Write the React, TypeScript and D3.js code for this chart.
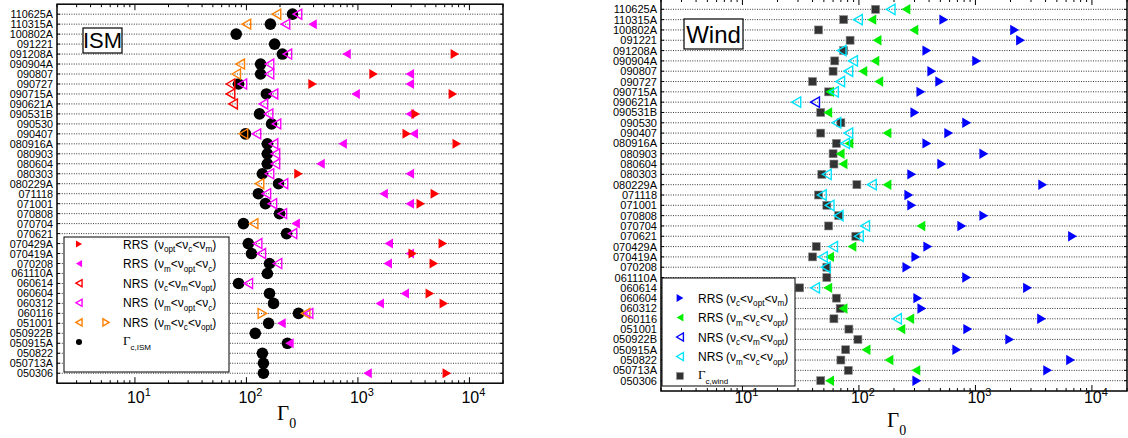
import React from 'react';
import * as d3 from 'd3';

// GRB names, top to bottom
const grbs = [
  '110625A', '110315A', '100802A', '091221', '091208A', '090904A', '090807', '090727',
  '090715A', '090621A', '090531B', '090530', '090407', '080916A', '080903', '080604',
  '080303', '080229A', '071118', '071001', '070808', '070704', '070621', '070429A',
  '070419A', '070208', '061110A', '060614', '060604', '060312', '060116', '051001',
  '050922B', '050915A', '050822', '050713A', '050306',
];

type V = number | null;
const n = null;

// ---- ISM panel (one value per GRB, null = no point) ----
const ismGammaC: V[] = [259, 164, 81, 179, 210, 134, 134, 85, 151, n, 131, 168, 98, 154, 154, 154, 139, 194, 128, 148,
  198, 94, 229, 104, 111, 161, 154, 85, 161, 175, 293, 158, 120, 233, 139, 142, 142];
const ismRrsRed: V[] = [n, n, n, n, 7400, n, 1380, 392, 7100, n, 3300, n, 2740, 7700, n, n, 293, n, 4890, 3660,
  n, n, n, 5770, 3100, 4790, n, n, 4410, 5890, n, n, n, n, n, n, 6270];
const ismRrsMagenta: V[] = [n, 392, n, n, 791, n, 2920, 2920, 953, n, 2920, n, 3170, 729, n, 462, 2920, n, 1700, 2920,
  n, 276, n, 1890, 2920, 1850, n, n, 2630, 1570, n, 206, n, 243, n, n, 1220];
const ismNrsMagenta: V[] = [287, 224, n, n, 233, 161, 161, 92, 175, 142, 158, 186, 123, 175, 182, 182, 161, 215, 151, 171,
  210, n, 259, 126, 136, 190, n, 104, n, n, 361, n, n, n, n, n, n];
const ismNrsRed: [string, number][] = [['090727', 72], ['090715A', 72], ['090621A', 76]];
const ismNrsOrangeL: [string, number][] = [
  ['110625A', 186], ['110315A', 100], ['090904A', 88], ['090807', 81],
  ['090407', 94], ['080229A', 131], ['070704', 116], ['060116', 339],
];
const ismNrsOrangeR: [string, number][] = [['060116', 139]];

// ---- Wind panel ----
const windGammaC: V[] = [139, 74, 45, 84, 74, 62, 60, 40, 55, n, 47, 70, 47, 64, 60, 61, 48, 96, 45, 53,
  67, 55, 94, 43, 40, 53, 53, 31, 64, 69, 61, 82, 98, 77, 70, 81, 47];
const windRrsBlue: V[] = [n, 535, 2170, 2440, 383, 1025, 422, 494, 340, n, 302, 841, 590, 383, 1180, 514, 284, 3780, 268, 284,
  1180, 764, 6820, 390, 308, 258, 841, 2800, 320, 347, 3700, 859, 1970, 692, 6560, 4170, 314];
const windRrsGreen: V[] = [253, 129, 296, 143, n, 137, 108, 148, 56, n, 54, n, 174, 82, 69, 73, n, 174, n, n,
  n, 340, n, 87, 56, n, n, 54, n, 73, 273, 229, n, 115, 181, 308, 56];
const windNrsCyan: V[] = [187, 98, n, n, 71, 89, 81, 69, 61, 29, n, 64, 81, 76, n, n, 53, 129, 48, 56,
  67, 113, 100, 60, 49, 52, n, 42, n, n, 212, n, n, n, n, n, n];
const windNrsBlue: [string, number][] = [['090621A', 42]];

const xDomain = [2, 20000];
const tickExps = ['1', '2', '3', '4'];

const RED = '#ff0000', MAG = '#ff00ff', ORA = '#ff8000', BLUE = '#0000ff', GREEN = '#00ee00', CYAN = '#00e5ff';

type Kind = 'circle' | 'square' | 'triL' | 'triR' | 'openL' | 'openR';
type Series = { pts: [number, number][]; kind: Kind; color: string };

const fromRows = (vals: V[]): [number, number][] =>
  vals.flatMap((v, i) => (v == null ? [] : [[i, v] as [number, number]]));
const fromPairs = (p: [string, number][]): [number, number][] => p.map(([g, v]) => [grbs.indexOf(g), v]);

function Marker({ kind, x, y, color, s }: { kind: Kind; x: number; y: number; color: string; s: number }) {
  if (kind === 'circle') return <circle cx={x} cy={y} r={s} fill={color} />;
  if (kind === 'square')
    return <rect x={x - s} y={y - s} width={2 * s} height={2 * s} fill="#333" stroke="#888" strokeWidth={0.6} />;
  const w = s * 0.85;
  const left = kind === 'triL' || kind === 'openL';
  const d = left
    ? `M${x - w},${y}L${x + w},${y - s}L${x + w},${y + s}Z`
    : `M${x + w},${y}L${x - w},${y - s}L${x - w},${y + s}Z`;
  const open = kind === 'openL' || kind === 'openR';
  return open
    ? <path d={d} fill="none" stroke={color} strokeWidth={1.4} />
    : <path d={d} fill={color} />;
}

type Seg = { t: string; sub?: boolean };
const nuText = (a: string, b: string, c: string): Seg[] => [
  { t: '(ν' }, { t: a, sub: true }, { t: '<ν' }, { t: b, sub: true }, { t: '<ν' }, { t: c, sub: true }, { t: ')' },
];

function SubText({ x, y, segs, size }: { x: number; y: number; segs: Seg[]; size: number }) {
  let prevSub = false;
  return (
    <text x={x} y={y} fontSize={size} fontFamily="Liberation Sans, Arial, sans-serif">
      {segs.map((s, i) => {
        const dy = s.sub && !prevSub ? 3.5 : !s.sub && prevSub ? -3.5 : 0;
        prevSub = !!s.sub;
        return <tspan key={i} dy={dy} fontSize={s.sub ? size * 0.68 : size}>{s.t}</tspan>;
      })}
    </text>
  );
}

type LegendItem = { syms: { kind: Kind; color: string; dx: number }[]; name?: string; segs?: Seg[]; gamma?: string };

function Panel(props: {
  x0: number; x1: number; y0: number; y1: number; labelSize: number;
  series: Series[]; markSize: number; dotSize: number;
  title: string; titleBox: [number, number, number, number]; titleSize: number;
  legendBox: [number, number, number, number]; legend: LegendItem[]; legendStep: number; legendFirst: number;
  symX: number; nameX: number; parenX: number; legendSize: number; legendSym: number;
  tickBase: number; gammaX: number; gammaY: number;
}) {
  const { x0, x1, y0, y1 } = props;
  const x = d3.scaleLog().domain(xDomain).range([x0, x1]);
  const y = d3.scaleLinear().domain([0, grbs.length + 1]).range([y0, y1]);
  const ticks = x.ticks();
  const isMajor = (v: number) => Math.abs(Math.log10(v) - Math.round(Math.log10(v))) < 1e-9;
  const [bx, by, bw, bh] = props.legendBox;
  const [tx, ty, tw, th] = props.titleBox;
  return (
    <g>
      {grbs.map((g, i) => (
        <g key={g}>
          <line x1={x0} x2={x1} y1={y(i + 1)} y2={y(i + 1)} stroke="#333" strokeWidth={1} strokeDasharray="1 1.4" />
          <line x1={x0} x2={x0 + 3} y1={y(i + 1)} y2={y(i + 1)} stroke="#000" />
          <line x1={x1 - 3} x2={x1} y1={y(i + 1)} y2={y(i + 1)} stroke="#000" />
          <text x={x0 - 4} y={y(i + 1) + 4} textAnchor="end" fontSize={props.labelSize}
            fontFamily="Liberation Sans, Arial, sans-serif">{g}</text>
        </g>
      ))}
      {ticks.map((t, i) => {
        const len = isMajor(t) ? 6 : 3;
        return (
          <g key={i}>
            <line x1={x(t)} x2={x(t)} y1={y0} y2={y0 + len} stroke="#000" />
            <line x1={x(t)} x2={x(t)} y1={y1} y2={y1 - len} stroke="#000" />
          </g>
        );
      })}
      {tickExps.map(e => (
        <text key={e} x={x(Math.pow(10, +e)) - 8} y={props.tickBase} fontSize={16}
          fontFamily="Liberation Sans, Arial, sans-serif">
          10<tspan fontSize={11} dy={-7}>{e}</tspan>
        </text>
      ))}
      <text x={props.gammaX} y={props.gammaY} fontSize={21} fontFamily="Liberation Serif, Times New Roman, serif">
        Γ<tspan fontSize={14} dy={8}>0</tspan>
      </text>
      <rect x={x0} y={y0} width={x1 - x0} height={y1 - y0} fill="none" stroke="#000" strokeWidth={1.5} />
      {props.series.map((s, si) => (
        <g key={si}>
          {s.pts.map(([r, v], k) => (
            <Marker key={k} kind={s.kind} x={x(v)} y={y(r + 1)} color={s.color}
              s={s.kind === 'circle' || s.kind === 'square' ? props.dotSize : props.markSize} />
          ))}
        </g>
      ))}
      <rect x={tx} y={ty} width={tw} height={th} fill="#fff" stroke="#000" strokeWidth={1.2} />
      <text x={tx + tw / 2} y={ty + th / 2 + props.titleSize * 0.36} textAnchor="middle" fontSize={props.titleSize}
        fontFamily="Liberation Sans, Arial, sans-serif">{props.title}</text>
      <rect x={bx} y={by} width={bw} height={bh} fill="#fff" stroke="#000" strokeWidth={1} />
      {props.legend.map((it, i) => {
        const ly = by + props.legendFirst + i * props.legendStep;
        return (
          <g key={i}>
            {it.syms.map((s, k) => (
              <Marker key={k} kind={s.kind} x={props.symX + s.dx} y={ly} color={s.color}
                s={s.kind === 'circle' || s.kind === 'square' ? props.legendSym * 0.85 : props.legendSym} />
            ))}
            {it.name && (
              <text x={props.nameX} y={ly + 4.5} fontSize={props.legendSize}
                fontFamily="Liberation Sans, Arial, sans-serif">{it.name}</text>
            )}
            {it.segs && <SubText x={props.parenX} y={ly + 4.5} segs={it.segs} size={props.legendSize} />}
            {it.gamma && (
              <text x={props.nameX} y={ly + 3} fontSize={13} fontFamily="Liberation Serif, Times New Roman, serif">
                Γ<tspan fontSize={8} dy={5} fontFamily="Liberation Sans, Arial, sans-serif">{it.gamma}</tspan>
              </text>
            )}
          </g>
        );
      })}
    </g>
  );
}

export default function App() {
  const ismSeries: Series[] = [
    { pts: fromRows(ismGammaC), kind: 'circle', color: '#000' },
    { pts: fromPairs(ismNrsOrangeL), kind: 'openL', color: ORA },
    { pts: fromPairs(ismNrsOrangeR), kind: 'openR', color: ORA },
    { pts: fromPairs(ismNrsRed), kind: 'openL', color: RED },
    { pts: fromRows(ismNrsMagenta), kind: 'openL', color: MAG },
    { pts: fromRows(ismRrsMagenta), kind: 'triL', color: MAG },
    { pts: fromRows(ismRrsRed), kind: 'triR', color: RED },
  ];
  const windSeries: Series[] = [
    { pts: fromRows(windGammaC), kind: 'square', color: '#333' },
    { pts: fromRows(windRrsGreen), kind: 'triL', color: GREEN },
    { pts: fromRows(windNrsCyan), kind: 'openL', color: CYAN },
    { pts: fromPairs(windNrsBlue), kind: 'openL', color: BLUE },
    { pts: fromRows(windRrsBlue), kind: 'triR', color: BLUE },
  ];
  const ismLegend: LegendItem[] = [
    { syms: [{ kind: 'triR', color: RED, dx: 0 }], name: 'RRS', segs: nuText('opt', 'c', 'm') },
    { syms: [{ kind: 'triL', color: MAG, dx: 0 }], name: 'RRS', segs: nuText('m', 'opt', 'c') },
    { syms: [{ kind: 'openL', color: RED, dx: 0 }], name: 'NRS', segs: nuText('c', 'm', 'opt') },
    { syms: [{ kind: 'openL', color: MAG, dx: 0 }], name: 'NRS', segs: nuText('m', 'opt', 'c') },
    { syms: [{ kind: 'openL', color: ORA, dx: 0 }, { kind: 'openR', color: ORA, dx: 27 }], name: 'NRS', segs: nuText('m', 'c', 'opt') },
    { syms: [{ kind: 'circle', color: '#000', dx: 0 }], gamma: 'c,ISM' },
  ];
  const windLegend: LegendItem[] = [
    { syms: [{ kind: 'triR', color: BLUE, dx: 0 }], name: 'RRS', segs: nuText('c', 'opt', 'm') },
    { syms: [{ kind: 'triL', color: GREEN, dx: 0 }], name: 'RRS', segs: nuText('m', 'c', 'opt') },
    { syms: [{ kind: 'openL', color: BLUE, dx: 0 }], name: 'NRS', segs: nuText('c', 'm', 'opt') },
    { syms: [{ kind: 'openL', color: CYAN, dx: 0 }], name: 'NRS', segs: nuText('m', 'c', 'opt') },
    { syms: [{ kind: 'square', color: '#333', dx: 0 }], gamma: 'c,wind' },
  ];
  return (
    <svg width={1128} height={438} style={{ position: 'absolute', left: 0, top: 0, background: '#fff' }}>
      <Panel x0={57} x1={503} y0={4.2} y1={383.2} labelSize={10.8} series={ismSeries} markSize={5} dotSize={5.8}
        title="ISM" titleBox={[83, 28, 39, 25]} titleSize={22}
        legendBox={[64, 237, 165, 135]} legend={ismLegend} legendStep={19.6} legendFirst={7}
        symX={79} nameX={123} parenX={154} legendSize={12} legendSym={3.6}
        tickBase={403} gammaX={277} gammaY={420} />
      <Panel x0={661} x1={1127} y0={-1} y1={391} labelSize={11} series={windSeries} markSize={5.2} dotSize={4}
        title="Wind" titleBox={[684, 19, 59, 30]} titleSize={24}
        legendBox={[662, 278, 133, 108]} legend={windLegend} legendStep={19.5} legendFirst={20}
        symX={680} nameX={698} parenX={726} legendSize={12} legendSym={4}
        tickBase={403} gammaX={887} gammaY={427} />
    </svg>
  );
}
